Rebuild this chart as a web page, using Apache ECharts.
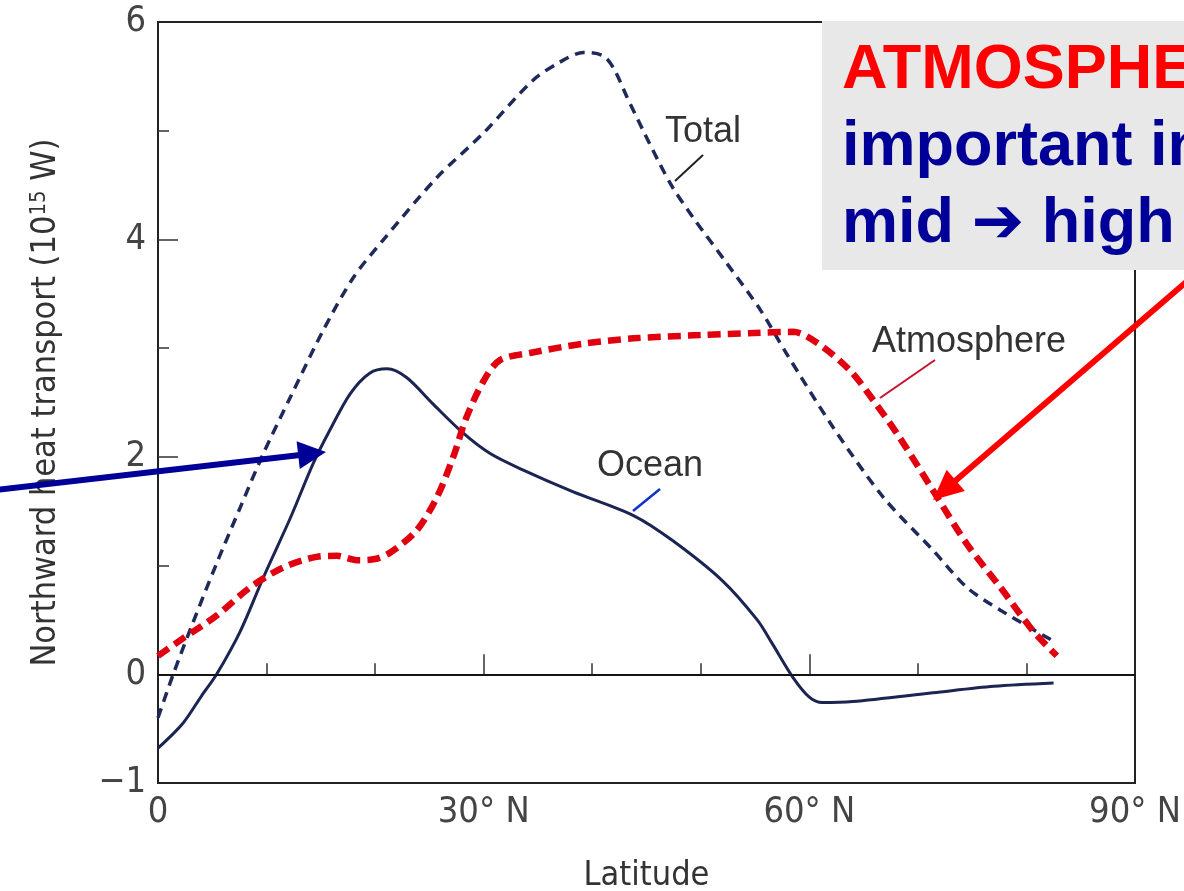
<!DOCTYPE html>
<html>
<head>
<meta charset="utf-8">
<script src="https://cdn.jsdelivr.net/npm/echarts@6/dist/echarts.min.js"></script>
<style>
  html, body { margin: 0; padding: 0; background: #fff; }
  #chart { width: 1184px; height: 891px; }
</style>
</head>
<body>
<div id="chart"></div>
<script>
// latitude (deg N) / northward heat transport (10^15 W)
const oceanLat = [0, 2.3, 4, 5.4, 7.6, 9.7, 12.2, 14.3, 15.8, 17.7, 19.5, 21.1, 22.9, 25.3, 28.1, 30.6, 33.6, 38.2, 43.8, 47.4, 52, 55.2, 56.6, 58.5, 60, 61.2, 64, 71.4, 77, 82.5];
const ocean    = [-0.68, -0.45, -0.2, 0, 0.4, 0.89, 1.44, 1.94, 2.24, 2.58, 2.77, 2.81, 2.73, 2.49, 2.22, 2.03, 1.88, 1.68, 1.46, 1.23, 0.86, 0.5, 0.28, -0.03, -0.21, -0.26, -0.25, -0.17, -0.11, -0.08];

const totalLat = [0, 1.4, 3.2, 5.4, 7.6, 9.7, 12.2, 15.2, 18, 20.7, 25.7, 30, 34.5, 37, 39.2, 41, 42, 43.2, 44.7, 46.2, 47.4, 49.3, 52.4, 55.5, 57.9, 62.2, 66.8, 71.4, 74.5, 77.6, 82.4];
const total    = [-0.4, 0, 0.47, 1.02, 1.54, 2.03, 2.55, 3.16, 3.65, 3.99, 4.57, 4.98, 5.46, 5.63, 5.72, 5.69, 5.57, 5.31, 5.0, 4.7, 4.48, 4.2, 3.78, 3.35, 2.95, 2.27, 1.63, 1.14, 0.8, 0.59, 0.31];

const atmosLat = [0, 2.3, 5.4, 8.5, 11.5, 14.6, 16.5, 18.3, 20, 21.4, 23.8, 25.7, 27.2, 28.4, 30, 31.5, 34.5, 39.1, 43.8, 49.9, 55, 58.5, 60.7, 63.7, 65.9, 68.3, 71.4, 74.5, 77.6, 80.6, 82.8];
const atmos    = [0.17, 0.33, 0.54, 0.8, 0.98, 1.08, 1.09, 1.05, 1.06, 1.12, 1.32, 1.63, 2.0, 2.36, 2.7, 2.89, 2.96, 3.04, 3.09, 3.12, 3.14, 3.15, 3.05, 2.8, 2.52, 2.18, 1.69, 1.2, 0.8, 0.4, 0.17];

const yLabels = [-1, 0, 2, 4, 6];
const yMajor = [2, 4];
const yMinor = [1, 3, 5];
const xLabels = [0, 30, 60, 90];
const xMajor = [30, 60];
const xMinor = [10, 20, 40, 50, 70, 80];

const pairs = (xs, ys) => xs.map((x, i) => [x, ys[i]]);

// arrow: shaft + filled head, pixel coords
function arrow(x1, y1, x2, y2, color, width, headLen, headHalf) {
  const dx = x2 - x1, dy = y2 - y1, len = Math.hypot(dx, dy);
  const ux = dx / len, uy = dy / len, nx = -uy, ny = ux;
  const bx = x2 - ux * headLen, by = y2 - uy * headLen;
  return [
    { type: 'line', z: 120, shape: { x1: x1, y1: y1, x2: bx + ux * 2, y2: by + uy * 2 },
      style: { stroke: color, lineWidth: width } },
    { type: 'polygon', z: 120,
      shape: { points: [[x2, y2], [bx + nx * headHalf, by + ny * headHalf], [bx - nx * headHalf, by - ny * headHalf]] },
      style: { fill: color } }
  ];
}

const tickFont = '"Liberation Sans Narrow", "DejaVu Sans Condensed", "Liberation Sans", sans-serif';
const labelFont = '"Liberation Sans", Arial, sans-serif';

const option = {
  backgroundColor: '#fff',
  animation: false,
  grid: { left: 158, right: 49, top: 22, bottom: 108, outerBoundsMode: 'none', containLabel: false,
    show: true, borderColor: '#222', borderWidth: 2 },
  xAxis: [{
    type: 'value', min: 0, max: 90, interval: 10,
    name: 'Latitude', nameLocation: 'middle', nameGap: 76,
    nameTextStyle: { fontFamily: tickFont, fontSize: 34, color: '#333' },
    axisLine: { show: true, lineStyle: { color: '#222', width: 2 } },
    axisTick: { show: true, inside: true, length: 20, customValues: xMajor, lineStyle: { color: '#333', width: 1.5 } },
    axisLabel: { customValues: xLabels, margin: 12, fontFamily: tickFont, fontSize: 36, color: '#444',
      formatter: v => v === 0 ? '0' : v + '° N' },
    splitLine: { show: false }
  }, {
    type: 'value', min: 0, max: 90, position: 'bottom',
    axisLine: { show: false },
    axisTick: { show: true, inside: true, length: 11, customValues: xMinor, lineStyle: { color: '#333', width: 1.5 } },
    axisLabel: { show: false },
    splitLine: { show: false }
  }],
  yAxis: [{
    type: 'value', min: -1, max: 6, interval: 1,
    name: 'Northward heat transport (10{sup|15} W)', nameLocation: 'middle', nameGap: 94, nameRotate: 90,
    nameTextStyle: { fontFamily: tickFont, fontSize: 34, color: '#333',
      rich: { sup: { fontFamily: tickFont, fontSize: 22, color: '#333', padding: [0, 0, 14, 0] } } },
    axisLine: { show: true, lineStyle: { color: '#222', width: 2 } },
    axisTick: { show: true, inside: true, length: 20, customValues: yMajor, lineStyle: { color: '#333', width: 1.5 } },
    axisLabel: { customValues: yLabels, margin: 12, fontFamily: tickFont, fontSize: 36, color: '#444',
      formatter: v => v < 0 ? '−' + Math.abs(v) : String(v) },
    splitLine: { show: false }
  }, {
    type: 'value', min: -1, max: 6, position: 'left',
    axisLine: { show: false },
    axisTick: { show: true, inside: true, length: 11, customValues: yMinor, lineStyle: { color: '#333', width: 1.5 } },
    axisLabel: { show: false },
    splitLine: { show: false }
  }],
  series: [{
    name: 'Ocean', type: 'line', smooth: 0.3, showSymbol: false,
    data: pairs(oceanLat, ocean),
    lineStyle: { color: '#1c2452', width: 3 },
    markLine: { silent: true, symbol: ['none', 'none'], label: { show: false },
      lineStyle: { color: '#111', width: 1.5, type: 'solid' }, data: [{ yAxis: 0 }] },
    z: 3
  }, {
    name: 'Total', type: 'line', smooth: 0.3, showSymbol: false,
    data: pairs(totalLat, total),
    lineStyle: { color: '#1f2a5a', width: 3.5, type: [10, 7] },
    z: 4
  }, {
    name: 'Atmosphere', type: 'line', smooth: 0.3, showSymbol: false,
    data: pairs(atmosLat, atmos),
    lineStyle: { color: '#e0000f', width: 6.5, type: [13, 7] },
    z: 5
  }],
  graphic: [
    { type: 'text', z: 50, style: { text: 'Total', x: 703, y: 132, align: 'center', verticalAlign: 'middle',
      font: '36px ' + labelFont, fill: '#333' } },
    { type: 'line', z: 50, shape: { x1: 675, y1: 181, x2: 703, y2: 155 }, style: { stroke: '#222', lineWidth: 2 } },
    { type: 'text', z: 50, style: { text: 'Atmosphere', x: 969, y: 342, align: 'center', verticalAlign: 'middle',
      font: '36px ' + labelFont, fill: '#333' } },
    { type: 'line', z: 50, shape: { x1: 880, y1: 398, x2: 935, y2: 360 }, style: { stroke: '#c8102e', lineWidth: 2 } },
    { type: 'text', z: 50, style: { text: 'Ocean', x: 650, y: 466, align: 'center', verticalAlign: 'middle',
      font: '36px ' + labelFont, fill: '#333' } },
    { type: 'line', z: 50, shape: { x1: 633, y1: 511, x2: 660, y2: 489 }, style: { stroke: '#1030d0', lineWidth: 2.5 } },
    { type: 'rect', z: 100, shape: { x: 822, y: 21, width: 380, height: 249 }, style: { fill: '#e8e8e8' } },
    { type: 'text', z: 110, style: { text: 'ATMOSPHERE', x: 842, y: 71, verticalAlign: 'middle',
      font: 'bold 63px ' + labelFont, fill: '#ff0000' } },
    { type: 'text', z: 110, style: { text: 'important in', x: 842, y: 148, verticalAlign: 'middle',
      font: 'bold 63px ' + labelFont, fill: '#000099' } },
    { type: 'text', z: 110, style: { text: 'mid ➔ high', x: 842, y: 225, verticalAlign: 'middle',
      font: 'bold 63px ' + labelFont + ', "DejaVu Sans"', fill: '#000099' } }
  ]
    .concat(arrow(1192, 277, 933, 500, '#ff0000', 6, 30, 14))
    .concat(arrow(-5, 490, 326, 452, '#000099', 6, 28, 14))
};

const chart = echarts.init(document.getElementById('chart'), null, { renderer: 'canvas' });
chart.setOption(option);
</script>
</body>
</html>
